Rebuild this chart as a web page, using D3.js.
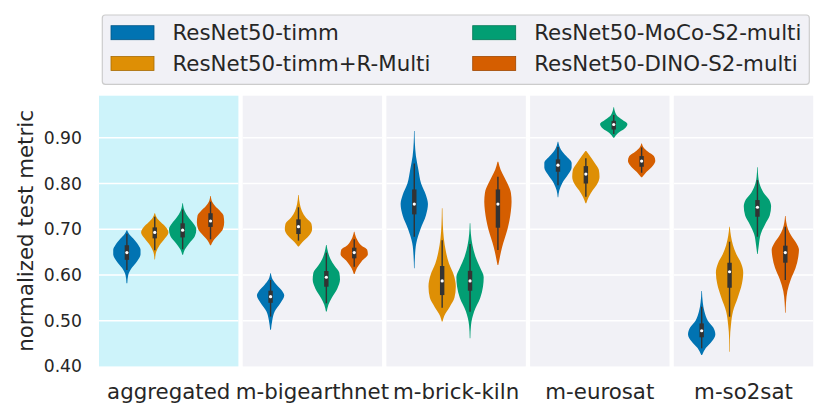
<!DOCTYPE html>
<html>
<head>
<meta charset="utf-8">
<script src="https://cdn.jsdelivr.net/npm/d3@7"></script>
<style>
html,body{margin:0;padding:0;background:#fff;}
svg{display:block;font-family:"DejaVu Sans",sans-serif;}
</style>
</head>
<body>
<svg id="chart" width="830" height="419"></svg>
<script>
// ---------------- DATA ----------------
const datasets = ["aggregated", "m-bigearthnet", "m-brick-kiln", "m-eurosat", "m-so2sat"];
const models = ["ResNet50-timm", "ResNet50-timm+R-Multi", "ResNet50-MoCo-S2-multi", "ResNet50-DINO-S2-multi"];
const colors = ["#0173b2", "#de8f05", "#029e73", "#d55e00"];
const yTicks = [0.4, 0.5, 0.6, 0.7, 0.8, 0.9];
const yTickLabels = ["0.40", "0.50", "0.60", "0.70", "0.80", "0.90"];

// rows: datasets, columns: models
const medians = [
  [0.649, 0.693, 0.698, 0.718],
  [0.5525, 0.7055, 0.595, 0.649],
  [0.755, 0.587, 0.587, 0.755],
  [0.840, 0.8206, 0.929, 0.849],
  [0.478, 0.607, 0.748, 0.649]
];
const q1 = [
  [0.633, 0.680, 0.682, 0.705],
  [0.539, 0.6895, 0.5743, 0.6363],
  [0.7325, 0.556, 0.5655, 0.7033],
  [0.8257, 0.800, 0.918, 0.8366],
  [0.4636, 0.572, 0.7273, 0.6268]
];
const q3 = [
  [0.665, 0.704, 0.713, 0.735],
  [0.5655, 0.7216, 0.6086, 0.6596],
  [0.787, 0.6195, 0.609, 0.787],
  [0.8528, 0.838, 0.937, 0.860],
  [0.494, 0.6267, 0.7638, 0.664]
];
const whiskerLo = [
  [0.611, 0.654, 0.656, 0.678],
  [0.509, 0.675, 0.538, 0.618],
  [0.6836, 0.528, 0.5196, 0.6545],
  [0.796, 0.771, 0.908, 0.8235],
  [0.4396, 0.5087, 0.6836, 0.589]
];
const whiskerHi = [
  [0.690, 0.727, 0.743, 0.760],
  [0.589, 0.748, 0.6486, 0.678],
  [0.844, 0.676, 0.6676, 0.8148],
  [0.880, 0.855, 0.9496, 0.879],
  [0.5305, 0.6726, 0.8075, 0.7054]
];

// density profiles: [value, relative half-width]
const profilesAggregated = [
  [[0.582,0.03],[0.60,0.1],[0.615,0.35],[0.63,0.75],[0.645,1.0],[0.655,1.0],[0.665,0.85],[0.68,0.45],[0.69,0.15],[0.698,0.02]],
  [[0.634,0.02],[0.65,0.1],[0.665,0.35],[0.68,0.75],[0.693,1.0],[0.705,0.8],[0.715,0.45],[0.725,0.15],[0.735,0.02]],
  [[0.644,0.03],[0.655,0.15],[0.67,0.5],[0.685,0.9],[0.70,1.0],[0.712,0.8],[0.725,0.45],[0.74,0.15],[0.757,0.02]],
  [[0.665,0.03],[0.675,0.2],[0.69,0.65],[0.70,0.9],[0.715,1.0],[0.73,0.95],[0.74,0.7],[0.75,0.35],[0.76,0.12],[0.7725,0.02]]
];
const profilesBigearthnet = [
  [[0.48,0.03],[0.50,0.12],[0.52,0.3],[0.54,0.75],[0.555,1.0],[0.565,0.85],[0.578,0.45],[0.59,0.15],[0.6035,0.02]],
  [[0.662,0.03],[0.672,0.3],[0.685,0.75],[0.70,1.0],[0.712,0.95],[0.725,0.55],[0.74,0.25],[0.755,0.1],[0.775,0.02]],
  [[0.52,0.03],[0.535,0.15],[0.55,0.4],[0.57,0.8],[0.59,1.0],[0.605,0.95],[0.62,0.6],[0.635,0.3],[0.65,0.12],[0.6654,0.02]],
  [[0.602,0.03],[0.615,0.2],[0.63,0.55],[0.645,1.0],[0.655,0.95],[0.665,0.5],[0.678,0.2],[0.6945,0.02]]
];
const profilesBrickKiln = [
  [[0.6145,0.02],[0.64,0.05],[0.67,0.15],[0.70,0.45],[0.73,0.85],[0.755,1.0],[0.775,0.85],[0.80,0.5],[0.83,0.3],[0.86,0.12],[0.89,0.04],[0.915,0.02]],
  [[0.498,0.03],[0.51,0.15],[0.53,0.55],[0.55,0.9],[0.575,1.0],[0.60,0.85],[0.625,0.5],[0.65,0.28],[0.68,0.12],[0.71,0.05],[0.7457,0.02]],
  [[0.4614,0.02],[0.49,0.07],[0.52,0.3],[0.55,0.75],[0.575,0.95],[0.595,1.0],[0.615,0.75],[0.64,0.4],[0.665,0.18],[0.69,0.06],[0.7128,0.02]],
  [[0.6217,0.03],[0.64,0.15],[0.66,0.3],[0.68,0.5],[0.70,0.7],[0.72,0.85],[0.74,0.95],[0.76,1.0],[0.78,0.95],[0.80,0.7],[0.815,0.45],[0.83,0.2],[0.8476,0.03]]
];
const profilesEurosat = [
  [[0.7697,0.02],[0.785,0.1],[0.80,0.3],[0.82,0.75],[0.835,1.0],[0.845,1.0],[0.86,0.6],[0.875,0.2],[0.8913,0.02]],
  [[0.7566,0.03],[0.77,0.2],[0.785,0.5],[0.80,0.85],[0.815,1.0],[0.83,0.95],[0.845,0.65],[0.86,0.3],[0.871,0.03]],
  [[0.90,0.03],[0.91,0.3],[0.92,0.8],[0.93,1.0],[0.94,0.6],[0.95,0.2],[0.9665,0.02]],
  [[0.8134,0.03],[0.825,0.35],[0.84,0.85],[0.85,1.0],[0.86,0.9],[0.87,0.45],[0.88,0.12],[0.8877,0.02]]
];
const profilesSo2sat = [
  [[0.425,0.03],[0.44,0.3],[0.455,0.75],[0.47,1.0],[0.485,0.85],[0.50,0.45],[0.52,0.2],[0.54,0.08],[0.565,0.02]],
  [[0.432,0.02],[0.46,0.03],[0.49,0.1],[0.52,0.25],[0.55,0.6],[0.58,0.9],[0.605,1.0],[0.625,0.85],[0.645,0.5],[0.665,0.25],[0.685,0.1],[0.7054,0.02]],
  [[0.6457,0.02],[0.665,0.1],[0.69,0.25],[0.71,0.55],[0.73,0.9],[0.75,1.0],[0.765,0.85],[0.78,0.45],[0.80,0.15],[0.815,0.06],[0.8353,0.02]],
  [[0.5174,0.02],[0.54,0.05],[0.565,0.15],[0.59,0.4],[0.615,0.75],[0.64,0.95],[0.655,1.0],[0.67,0.8],[0.685,0.45],[0.70,0.2],[0.715,0.07],[0.7288,0.02]]
];
const profiles = [profilesAggregated, profilesBigearthnet, profilesBrickKiln, profilesEurosat, profilesSo2sat];

// ---------------- LAYOUT ----------------
const svg = d3.select("#chart");
const plotLeft = 99, plotRight = 813.2, plotTop = 95.7, plotBottom = 366.4;
const textColor = "#262626";
const panelBg = "#f1f1f6";
const highlightBg = "#cdf3fa";
const labelSize = 21.33, tickSize = 17.2;

const y = d3.scaleLinear().domain([0.4, 0.992]).range([plotBottom, plotTop]);
const xOuter = d3.scaleBand().domain(datasets).range([plotLeft, plotRight]).paddingInner(0.0299).paddingOuter(0);

// panels
datasets.forEach((ds, i) => {
  const x0 = xOuter(ds), W = xOuter.bandwidth();
  const g = svg.append("g");
  g.append("rect").attr("x", x0).attr("y", plotTop).attr("width", W).attr("height", plotBottom - plotTop)
    .attr("fill", i === 0 ? highlightBg : panelBg);
  g.selectAll("line.grid").data(yTicks.slice(1)).enter().append("line")
    .attr("x1", x0).attr("x2", x0 + W).attr("y1", d => y(d)).attr("y2", d => y(d))
    .attr("stroke", "#fff").attr("stroke-width", 1.5);

  const xInner = d3.scaleBand().domain(models).range([x0 + 0.1 * W, x0 + 0.9 * W]);
  const halfW = xInner.bandwidth() * 0.49;

  models.forEach((m, j) => {
    const cx = xInner(m) + xInner.bandwidth() / 2;
    const prof = profiles[i][j];
    const area = d3.area()
      .y(d => y(d[0]))
      .x0(d => cx - halfW * d[1])
      .x1(d => cx + halfW * d[1])
      .curve(d3.curveMonotoneY);
    g.append("path").attr("d", area(prof)).attr("fill", colors[j]);
    // whisker
    g.append("line").attr("x1", cx).attr("x2", cx)
      .attr("y1", y(whiskerLo[i][j])).attr("y2", y(whiskerHi[i][j]))
      .attr("stroke", "#333").attr("stroke-width", 1.4);
    // box
    g.append("rect").attr("x", cx - 2.2).attr("width", 4.4)
      .attr("y", y(q3[i][j])).attr("height", y(q1[i][j]) - y(q3[i][j]))
      .attr("fill", "#333");
    // median
    g.append("circle").attr("cx", cx).attr("cy", y(medians[i][j])).attr("r", 1.6).attr("fill", "#fff");
  });
});

// y axis
const yAxis = d3.axisLeft(y).tickValues(yTicks).tickFormat((d, i) => yTickLabels[i]).tickSize(0).tickPadding(17);
const yg = svg.append("g").attr("transform", `translate(${plotLeft},0)`).call(yAxis);
yg.select(".domain").remove();
yg.selectAll("text").attr("font-size", tickSize).attr("fill", textColor).attr("font-family", "DejaVu Sans");

// x axis labels
const xAxis = d3.axisBottom(xOuter).tickSize(0).tickPadding(17.8);
const xg = svg.append("g").attr("transform", `translate(0,${plotBottom})`).call(xAxis);
xg.select(".domain").remove();
xg.selectAll("text").attr("font-size", labelSize).attr("fill", textColor).attr("font-family", "DejaVu Sans");

// y label
svg.append("text")
  .attr("transform", `translate(33,231) rotate(-90)`)
  .attr("text-anchor", "middle")
  .attr("font-size", labelSize).attr("fill", textColor)
  .text("normalized test metric");

// legend
const lg = svg.append("g");
lg.append("rect").attr("x", 102.3).attr("y", 15).attr("width", 707).attr("height", 69.3)
  .attr("rx", 3).attr("fill", panelBg).attr("stroke", "#cccccc").attr("stroke-width", 1.2);
const legendPos = [[111, 25.7], [111, 56.5], [472.7, 25.7], [472.7, 56.5]];
models.forEach((m, j) => {
  const [lx, ly] = legendPos[j];
  lg.append("rect").attr("x", lx).attr("y", ly).attr("width", 43).attr("height", 14)
    .attr("fill", colors[j]).attr("stroke", d3.color(colors[j]).darker(0.8)).attr("stroke-width", 0.8);
  lg.append("text").attr("x", lx + 61.5).attr("y", ly + 14)
    .attr("font-size", labelSize).attr("fill", textColor).text(m);
});
</script>
</body>
</html>
